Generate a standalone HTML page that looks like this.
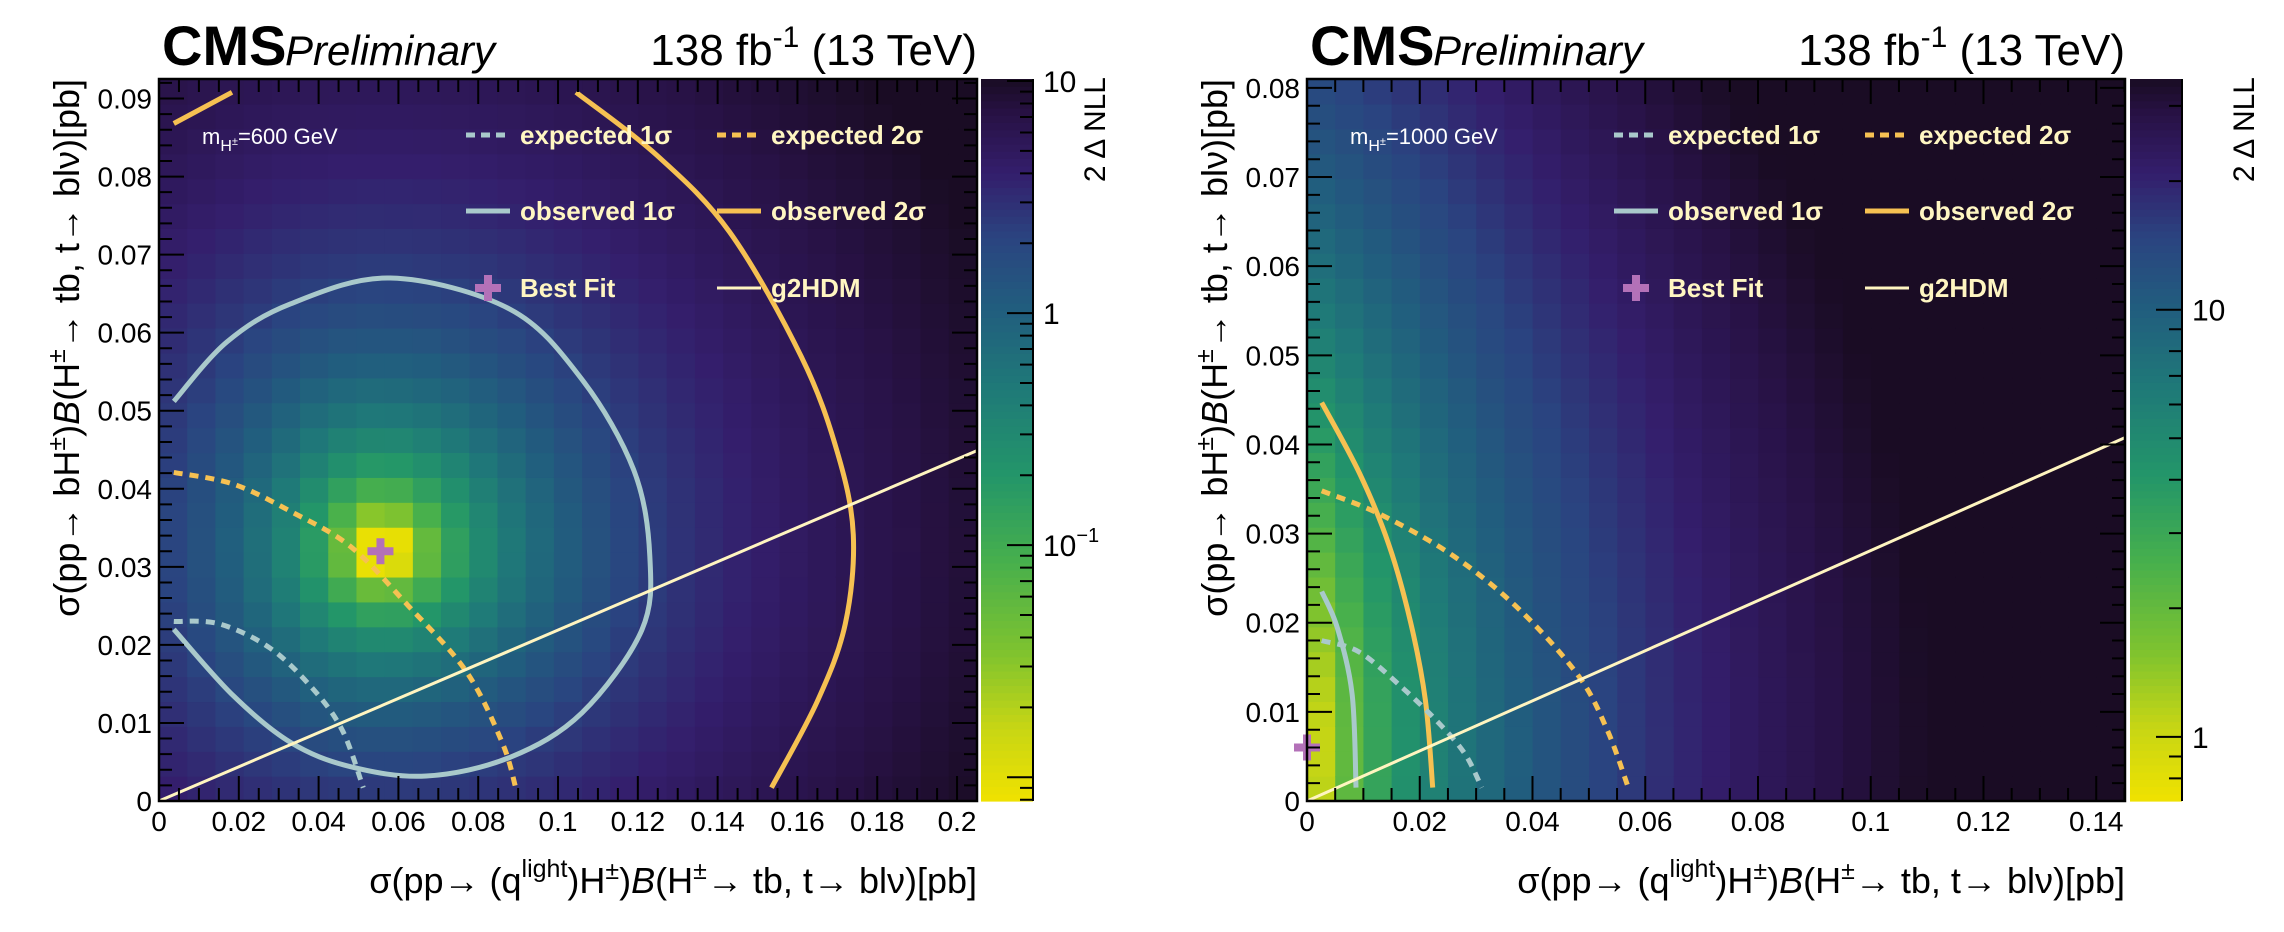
<!DOCTYPE html>
<html><head><meta charset="utf-8"><style>
html,body{margin:0;padding:0;background:#fff;}
svg{display:block;font-family:"Liberation Sans",sans-serif;}
</style></head><body>
<svg id="root" width="2284" height="932" viewBox="0 0 2284 932" xmlns="http://www.w3.org/2000/svg"></svg>
<script>
// ---------- data: left chart (m=600 GeV) ----------
const L_xTicks = [0,0.02,0.04,0.06,0.08,0.1,0.12,0.14,0.16,0.18,0.2];
const L_xTickLabels = ["0","0.02","0.04","0.06","0.08","0.1","0.12","0.14","0.16","0.18","0.2"];
const L_yTicks = [0,0.01,0.02,0.03,0.04,0.05,0.06,0.07,0.08,0.09];
const L_yTickLabels = ["0","0.01","0.02","0.03","0.04","0.05","0.06","0.07","0.08","0.09"];
const L_obs1x = [0.0037,0.017,0.033,0.058,0.088,0.106,0.119,0.123,0.121,0.106,0.088,0.067,0.048,0.033,0.0186,0.0037];
const L_obs1y = [0.0512,0.0588,0.0637,0.067,0.063,0.054,0.0424,0.0314,0.0219,0.0113,0.0056,0.0032,0.0044,0.0075,0.0135,0.022];
const L_obs2x = [0.1045,0.1246,0.143,0.161,0.170,0.174,0.172,0.165,0.1535];
const L_obs2y = [0.0908,0.0828,0.0729,0.0569,0.0447,0.0341,0.0227,0.0128,0.0017];
const L_obs2bx = [0.0037,0.0183];
const L_obs2by = [0.0868,0.0908];
const L_exp2x = [0.0037,0.0186,0.033,0.048,0.0625,0.077,0.086,0.0894];
const L_exp2y = [0.0421,0.0406,0.0371,0.0326,0.025,0.0166,0.0075,0.0017];
const L_exp1x = [0.0037,0.015,0.0278,0.0387,0.046,0.0512];
const L_exp1y = [0.023,0.0227,0.0196,0.0143,0.009,0.0017];
const L_bestFit = [0.0555,0.032];
const L_g2hdmSlope = [0.219];
const L_nllShape = [2.3,2.2,1.6,0.066,0.055,0.035,0.029]; // level, inner power, outer power, widths (x+,x-,y+,y-)
// ---------- data: right chart (m=1000 GeV) ----------
const R_xTicks = [0,0.02,0.04,0.06,0.08,0.1,0.12,0.14];
const R_xTickLabels = ["0","0.02","0.04","0.06","0.08","0.1","0.12","0.14"];
const R_yTicks = [0,0.01,0.02,0.03,0.04,0.05,0.06,0.07,0.08];
const R_yTickLabels = ["0","0.01","0.02","0.03","0.04","0.05","0.06","0.07","0.08"];
const R_obs2x = [0.0026,0.0093,0.0145,0.0184,0.021,0.0223];
const R_obs2y = [0.0447,0.0368,0.0288,0.02,0.0113,0.0015];
const R_obs1x = [0.0026,0.0054,0.008,0.0087];
const R_obs1y = [0.0235,0.0194,0.012,0.0015];
const R_exp2x = [0.0026,0.0132,0.0262,0.0378,0.0482,0.0533,0.057];
const R_exp2y = [0.0348,0.0321,0.0274,0.0214,0.014,0.0079,0.0015];
const R_exp1x = [0.0026,0.0093,0.0171,0.0236,0.0281,0.031];
const R_exp1y = [0.018,0.0167,0.0126,0.0086,0.0052,0.0015];
const R_bestFit = [0.0,0.006];
const R_g2hdmSlope = [0.281];
const R_nllShape = [0.7,480,1.2,2300];
// colour bar
const L_cbTicks = [0.1,1,10];
const L_cbLabels = ["10","1","10"];
const R_cbTicks = [1,10];
const R_cbLabels = ["1","10"];

const NS="http://www.w3.org/2000/svg";
const root=document.getElementById('root');
function el(tag,attrs,parent){const e=document.createElementNS(NS,tag);for(const k in attrs)e.setAttribute(k,attrs[k]);(parent||root).appendChild(e);return e;}

const stops=[[0,[240,226,0]],[0.1,[200,214,20]],[0.2,[130,196,45]],[0.33,[72,176,76]],[0.45,[35,150,105]],[0.57,[31,122,120]],[0.68,[33,94,126]],[0.78,[42,68,128]],[0.87,[52,30,108]],[0.95,[40,18,70]],[1,[26,12,36]]];
function cmap(t){t=Math.max(0,Math.min(1,t));for(let i=1;i<stops.length;i++){if(t<=stops[i][0]){const a=stops[i-1],b=stops[i];const f=(t-a[0])/(b[0]-a[0]);const c=a[1].map((v,j)=>Math.round(v+(b[1][j]-v)*f));return `rgb(${c[0]},${c[1]},${c[2]})`;}}return 'rgb(26,12,36)';}

function smoothPath(pts){
  if(pts.length<3) return pts.map((p,k)=>(k?'L':'M')+p[0].toFixed(1)+','+p[1].toFixed(1)).join(' ');
  let d='M'+pts[0][0].toFixed(1)+','+pts[0][1].toFixed(1);
  for(let i=0;i<pts.length-1;i++){
    const p0=pts[Math.max(0,i-1)],p1=pts[i],p2=pts[i+1],p3=pts[Math.min(pts.length-1,i+2)];
    const c1=[p1[0]+(p2[0]-p0[0])/6,p1[1]+(p2[1]-p0[1])/6];
    const c2=[p2[0]-(p3[0]-p1[0])/6,p2[1]-(p3[1]-p1[1])/6];
    d+=`C${c1[0].toFixed(1)},${c1[1].toFixed(1)} ${c2[0].toFixed(1)},${c2[1].toFixed(1)} ${p2[0].toFixed(1)},${p2[1].toFixed(1)}`;
  }
  return d;
}

function drawChart(c){
  const g=el('g',{});
  
  
  const X=v=>c.x0+(v/c.xmax)*(c.x1-c.x0);
  const Y=v=>c.y1-(v/c.ymax)*(c.y1-c.y0);
  const clipId='clip'+c.id;
  const defs=el('defs',{},g);
  const cp=el('clipPath',{id:clipId},defs);
  el('rect',{x:c.x0,y:c.y0,width:c.x1-c.x0,height:c.y1-c.y0},cp);
  const hm=el('g',{'clip-path':`url(#${clipId})`},g);
  
  
  const nb=29, dx=c.xmax/nb, dy=c.ymax/nb;
  for(let i=0;i<nb;i++)for(let j=0;j<nb;j++){
    const xc=(i+0.5)*dx, yc=(j+0.5)*dy;
    const v=c.nll(xc,yc);
    const t=(Math.log10(Math.max(v,1e-6))-c.lmin)/(c.lmax-c.lmin);
    const r=el('rect',{x:X(i*dx),y:Y((j+1)*dy),width:X((i+1)*dx)-X(i*dx)+0.6,height:Y(j*dy)-Y((j+1)*dy)+0.6,fill:cmap(t)},hm);
    
    
  }
  const cg=el('g',{'clip-path':`url(#${clipId})`},g);
  c.curves.forEach(cv=>{
    const pts=cv.xs.map((v,k)=>[X(v),Y(cv.ys[k])]);
    const p=el('path',{d:smoothPath(pts),fill:'none',stroke:cv.color,'stroke-width':cv.w,'stroke-dasharray':cv.dash||'none','stroke-linejoin':'round'},cg);
    
    
  });
  const gl=el('line',{x1:X(0),y1:Y(0),x2:X(c.xmax),y2:Y(c.xmax*c.slope),stroke:'#fff5c0','stroke-width':3},cg);
  
  
  const bx=X(c.bf[0]), by=Y(c.bf[1]);
  const bf=el('path',{d:`M${bx-4},${by-13}h8v9h9v8h-9v9h-8v-9h-9v-8h9z`,fill:'#b371b8'},g);
  
  
  const fr=el('rect',{x:c.x0,y:c.y0,width:c.x1-c.x0,height:c.y1-c.y0,fill:'none',stroke:'#000','stroke-width':2.5},g);
  
  
  let tp='';
  for(let v=0;v<=c.xmax+1e-9;v+=c.xminor){const isM=Math.abs(v/c.xmajor-Math.round(v/c.xmajor))<1e-6;const L=isM?25:13;const x=X(v);tp+=`M${x},${c.y1}v${-L}M${x},${c.y0}v${L}`;}
  for(let v=0;v<=c.ymax+1e-9;v+=c.yminor){const isM=Math.abs(v/c.ymajor-Math.round(v/c.ymajor))<1e-6;const L=isM?25:13;const y=Y(v);tp+=`M${c.x0},${y}h${L}M${c.x1},${y}h${-L}`;}
  const tk=el('path',{d:tp,stroke:'#000','stroke-width':2,fill:'none'},g);
  
  
  c.xt.forEach((v,k)=>{const t=el('text',{x:X(v),y:831,'font-size':28,'text-anchor':'middle'},g);t.textContent=c.xtl[k];});
  c.yt.forEach((v,k)=>{const t=el('text',{x:c.x0-7,y:Y(v)+10,'font-size':28,'text-anchor':'end'},g);t.textContent=c.ytl[k];});
  const xt=el('text',{x:c.x1,y:893,'font-size':36,'text-anchor':'end'},g);
  
  
  xt.innerHTML='σ(pp→ (q<tspan dy="-16" font-size="25">light</tspan><tspan dy="16">)H</tspan><tspan dy="-14" font-size="25">±</tspan><tspan dy="14">)</tspan><tspan font-style="italic">B</tspan>(H<tspan dy="-14" font-size="25">±</tspan><tspan dy="14">→ tb, t→ blν)[pb]</tspan>';
  const yt=el('text',{x:0,y:0,'font-size':36,'text-anchor':'end',transform:`translate(${c.x0-80},${c.y0}) rotate(-90)`},g);
  
  
  yt.innerHTML='σ(pp→ bH<tspan dy="-14" font-size="25">±</tspan><tspan dy="14">)</tspan><tspan font-style="italic">B</tspan>(H<tspan dy="-14" font-size="25">±</tspan><tspan dy="14">→ tb, t→ blν)[pb]</tspan>';
  const cms=el('text',{x:c.x0+3,y:65,'font-size':56,'font-weight':'bold'},g);cms.textContent='CMS';
  
  const pre=el('text',{x:c.x0+126,y:65,'font-size':42,'font-style':'italic'},g);pre.textContent='Preliminary';
  
  const lum=el('text',{x:c.x1,y:65,'font-size':44,'text-anchor':'end'},g);
  lum.innerHTML='138 fb<tspan dy="-18" font-size="30">-1</tspan><tspan dy="18"> (13 TeV)</tspan>';
  
  const ml=el('text',{x:c.x0+43,y:144,'font-size':22,fill:'#fff'},g);
  ml.innerHTML='m<tspan dy="7" font-size="16">H</tspan><tspan dy="-6" font-size="11">±</tspan><tspan dy="-1">='+c.mass+' GeV</tspan>';
  
  const lg=el('g',{'font-size':26,'font-weight':'bold',fill:'#fff6c2'},g);
  
  const c1=c.x0+307, c2=c.x0+558, rows=[135,211,288];
  const ent=[[c1,0,'#a9c9cb','9 6','expected 1σ'],[c2,0,'#f6c152','9 6','expected 2σ'],[c1,1,'#a9c9cb','','observed 1σ'],[c2,1,'#f6c152','','observed 2σ'],[c2,2,'#fff5c0','','g2HDM']];
  ent.forEach(e=>{const y=rows[e[1]];const ln=el('line',{x1:e[0],y1:y,x2:e[0]+44,y2:y,stroke:e[2],'stroke-width':e[4]==='g2HDM'?3:5,'stroke-dasharray':e[3]||'none'},lg);
    
    const t=el('text',{x:e[0]+54,y:y+9},lg);t.textContent=e[4];});
  const lx=c1+22, ly=rows[2];
  const lc=el('path',{d:`M${lx-4},${ly-13}h8v9h9v8h-9v9h-8v-9h-9v-8h9z`,fill:'#b371b8'},lg);
  
  const lt=el('text',{x:c1+54,y:ly+9},lg);lt.textContent='Best Fit';
  const cb=el('g',{},g);
  
  const cbH=c.y1-c.y0;
  for(let k=0;k<100;k++){const t=k/100;el('rect',{x:c.cb0,y:c.y1-(t+0.01)*cbH,width:c.cb1-c.cb0,height:cbH/100+0.6,fill:cmap(t+0.005)},cb);}
  el('line',{x1:c.cb1,y1:c.y0,x2:c.cb1,y2:c.y1,stroke:'#000','stroke-width':2},cb);
  const CY=v=>c.y1-(Math.log10(v)-c.lmin)/(c.lmax-c.lmin)*cbH;
  let cbt='';
  for(let e=-3;e<=2;e++)for(let m=1;m<=9;m++){const v=m*Math.pow(10,e);const y=CY(v);if(y<c.y0-0.5||y>c.y1+0.5)continue;cbt+=`M${c.cb1},${y}h${m===1?-26:-13}`;}
  el('path',{d:cbt,stroke:'#000','stroke-width':2},cb);
  c.cbt.forEach((v,k)=>{const t=el('text',{x:c.cb1+10,y:CY(v)+11,'font-size':30},cb);
    if(v===0.1){t.innerHTML='10<tspan dy="-14" font-size="20">−1</tspan>';}else t.textContent=c.cbl[k];
    });
  const ct=el('text',{x:0,y:0,'font-size':30,'text-anchor':'end',transform:`translate(${c.cb1+72},${c.y0-2}) rotate(-90)`},cb);
  ct.textContent='2 Δ NLL';
}

drawChart({id:'L',name:'chart-600gev',x0:159,x1:977,y0:79,y1:801,xmax:0.205,ymax:0.0925,
  xmajor:0.02,xminor:0.005,ymajor:0.01,yminor:0.002,xt:L_xTicks,xtl:L_xTickLabels,yt:L_yTicks,ytl:L_yTickLabels,
  lmin:Math.log10(0.0079),lmax:Math.log10(10.2),cb0:981,cb1:1033,cbt:L_cbTicks,cbl:L_cbLabels,mass:'600',
  bf:L_bestFit,slope:L_g2hdmSlope[0],
  nll:(x,y)=>{const p=L_nllShape;const dx=x-L_bestFit[0],dy=y-L_bestFit[1];const a=dx>0?p[3]:p[4],b=dy>0?p[5]:p[6];const r=Math.sqrt((dx/a)**2+(dy/b)**2);return Math.max(0.009,p[0]*Math.pow(r,r<1?p[1]:p[2]));},
  curves:[{name:'observed-1sigma',xs:L_obs1x,ys:L_obs1y,color:'#a9c9cb',w:5},
    {name:'observed-2sigma',xs:L_obs2x,ys:L_obs2y,color:'#f6c152',w:5},
    {name:'observed-2sigma-corner',xs:L_obs2bx,ys:L_obs2by,color:'#f6c152',w:5},
    {name:'expected-2sigma',xs:L_exp2x,ys:L_exp2y,color:'#f6c152',w:5,dash:'9 7'},
    {name:'expected-1sigma',xs:L_exp1x,ys:L_exp1y,color:'#a9c9cb',w:5,dash:'9 7'}]});

drawChart({id:'R',name:'chart-1000gev',x0:1307,x1:2125,y0:79,y1:801,xmax:0.1451,ymax:0.081,
  xmajor:0.02,xminor:0.005,ymajor:0.01,yminor:0.002,xt:R_xTicks,xtl:R_xTickLabels,yt:R_yTicks,ytl:R_yTickLabels,
  lmin:-0.15,lmax:1.54,cb0:2130,cb1:2182,cbt:R_cbTicks,cbl:R_cbLabels,mass:'1000',
  bf:R_bestFit,slope:R_g2hdmSlope[0],
  nll:(x,y)=>{const p=R_nllShape;return p[0]+p[1]*Math.pow(x,p[2])+p[3]*(y-R_bestFit[1])**2;},
  curves:[{name:'observed-1sigma',xs:R_obs1x,ys:R_obs1y,color:'#a9c9cb',w:5},
    {name:'observed-2sigma',xs:R_obs2x,ys:R_obs2y,color:'#f6c152',w:5},
    {name:'expected-2sigma',xs:R_exp2x,ys:R_exp2y,color:'#f6c152',w:5,dash:'9 7'},
    {name:'expected-1sigma',xs:R_exp1x,ys:R_exp1y,color:'#a9c9cb',w:5,dash:'9 7'}]});
</script>
</body></html>
